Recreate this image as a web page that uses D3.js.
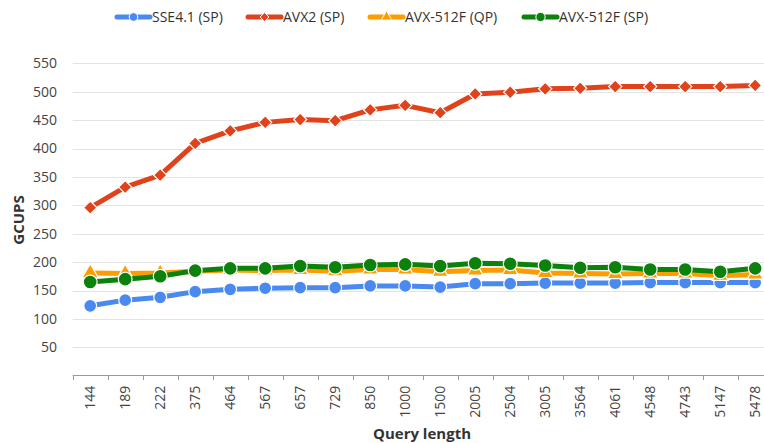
<!DOCTYPE html>
<html>
<head>
<meta charset="utf-8">
<script src="https://cdn.jsdelivr.net/npm/d3@7"></script>
<style>
  html, body { margin: 0; padding: 0; background: #fff; }
  svg { display: block; font-family: "Open Sans", sans-serif; }
</style>
</head>
<body>
<svg id="chart" width="764" height="443"></svg>
<script>
// Query lengths on the x axis
const queryLengths = ["144", "189", "222", "375", "464", "567", "657", "729", "850", "1000",
  "1500", "2005", "2504", "3005", "3564", "4061", "4548", "4743", "5147", "5478"];

// GCUPS per implementation
const sse41SP = [123, 133, 138, 148, 152, 154, 155, 155, 158, 158,
  156, 162, 162, 163, 163, 163, 164, 164, 164, 164];
const avx2SP = [296, 332, 353, 409, 431, 446, 451, 449, 468, 476,
  463, 496, 499, 505, 506, 509, 509, 509, 509, 511];
const avx512QP = [181, 180, 181, 184, 186, 185, 186, 184, 187, 187,
  183, 185, 186, 181, 180, 179, 180, 180, 176, 178];
const avx512SP = [165, 170, 175, 185, 189, 189, 193, 191, 195, 196,
  193, 198, 197, 194, 190, 191, 187, 187, 183, 189];

const yTicks = [50, 100, 150, 200, 250, 300, 350, 400, 450, 500, 550];

const seriesNames = ["SSE4.1 (SP)", "AVX2 (SP)", "AVX-512F (QP)", "AVX-512F (SP)"];
const seriesColors = ["#4a89f0", "#e0421b", "#ff9c00", "#0c820c"];
const seriesShapes = [d3.symbolCircle, d3.symbolDiamond2, d3.symbolTriangle, d3.symbolCircle];
const seriesSizes = [130, 110, 110, 150];
const seriesValues = [sse41SP, avx2SP, avx512QP, avx512SP];

const svg = d3.select("#chart");

const x = d3.scaleBand().domain(queryLengths).range([72.7, 772.7]);
const y = d3.scaleLinear().domain([0, 550]).range([375.7, 63.3]);
const cx = d => x(d) + x.bandwidth() / 2;

// Horizontal gridlines
svg.append("g")
  .selectAll("line")
  .data(yTicks)
  .join("line")
  .attr("x1", 72.7).attr("x2", 764)
  .attr("y1", d => Math.round(y(d)) + 0.5).attr("y2", d => Math.round(y(d)) + 0.5)
  .attr("stroke", "#e3e3e3").attr("stroke-width", 1);

// Y axis labels
const yAxis = d3.axisLeft(y).tickValues(yTicks).tickSize(0).tickPadding(0);
const gy = svg.append("g").attr("transform", "translate(57,0)").call(yAxis);
gy.select(".domain").remove();
gy.selectAll("text")
  .attr("fill", "#444").style("font-size", "14px")
  .style("font-family", "'Open Sans', sans-serif");

// X axis baseline with ticks at category boundaries
const gx = svg.append("g");
gx.append("line")
  .attr("x1", 72.7).attr("x2", 772.7)
  .attr("y1", 375.5).attr("y2", 375.5)
  .attr("stroke", "#9a9a9a");
gx.selectAll("line.tick")
  .data(queryLengths)
  .join("line")
  .attr("class", "tick")
  .attr("x1", d => Math.round(x(d)) + 0.5).attr("x2", d => Math.round(x(d)) + 0.5)
  .attr("y1", 375.5).attr("y2", 380)
  .attr("stroke", "#9a9a9a");

// X axis labels, rotated
const xAxis = d3.axisBottom(x).tickSize(0).tickPadding(0);
const gxl = svg.append("g").attr("transform", "translate(0,375.7)").call(xAxis);
gxl.select(".domain").remove();
gxl.selectAll("text")
  .attr("transform", "rotate(-90)")
  .attr("x", -10).attr("y", 0).attr("dy", "0.35em")
  .attr("text-anchor", "end")
  .attr("fill", "#444").style("font-size", "14px")
  .style("font-family", "'Open Sans', sans-serif");

// Axis titles
svg.append("text")
  .attr("x", 422).attr("y", 439)
  .attr("text-anchor", "middle")
  .attr("fill", "#333")
  .style("font-size", "15px").style("font-weight", "bold")
  .text("Query length");

svg.append("text")
  .attr("transform", "translate(24,220) rotate(-90)")
  .attr("text-anchor", "middle")
  .attr("fill", "#333")
  .style("font-size", "15px").style("font-weight", "bold")
  .text("GCUPS");

// Series lines and markers
const line = d3.line().x((d, i) => cx(queryLengths[i])).y(d => y(d));

seriesValues.forEach((vals, s) => {
  const g = svg.append("g");
  g.append("path")
    .datum(vals)
    .attr("d", line)
    .attr("fill", "none")
    .attr("stroke", seriesColors[s])
    .attr("stroke-width", 5)
    .attr("stroke-linejoin", "round");
  g.selectAll("path.pt")
    .data(vals)
    .join("path")
    .attr("class", "pt")
    .attr("transform", (d, i) => `translate(${cx(queryLengths[i])},${y(d)})`)
    .attr("d", d3.symbol().type(seriesShapes[s]).size(seriesSizes[s]))
    .attr("fill", seriesColors[s])
    .attr("stroke", "#fff").attr("stroke-width", 1.2);
});

// Legend
const legendX = [117, 248, 370, 524];
const lg = svg.append("g");
seriesNames.forEach((name, s) => {
  const g = lg.append("g").attr("transform", `translate(${legendX[s]},17)`);
  g.append("line")
    .attr("x1", 0).attr("x2", 33).attr("y1", 0).attr("y2", 0)
    .attr("stroke", seriesColors[s]).attr("stroke-width", 5)
    .attr("stroke-linecap", "round");
  g.append("path")
    .attr("transform", "translate(16.5,0)")
    .attr("d", d3.symbol().type(seriesShapes[s]).size(seriesSizes[s] * 0.45))
    .attr("fill", seriesColors[s])
    .attr("stroke", "#fff").attr("stroke-width", 1);
  g.append("text")
    .attr("x", 35).attr("y", 0).attr("dy", "0.35em")
    .attr("fill", "#333")
    .style("font-size", "14px")
    .text(name);
});
</script>
</body>
</html>
